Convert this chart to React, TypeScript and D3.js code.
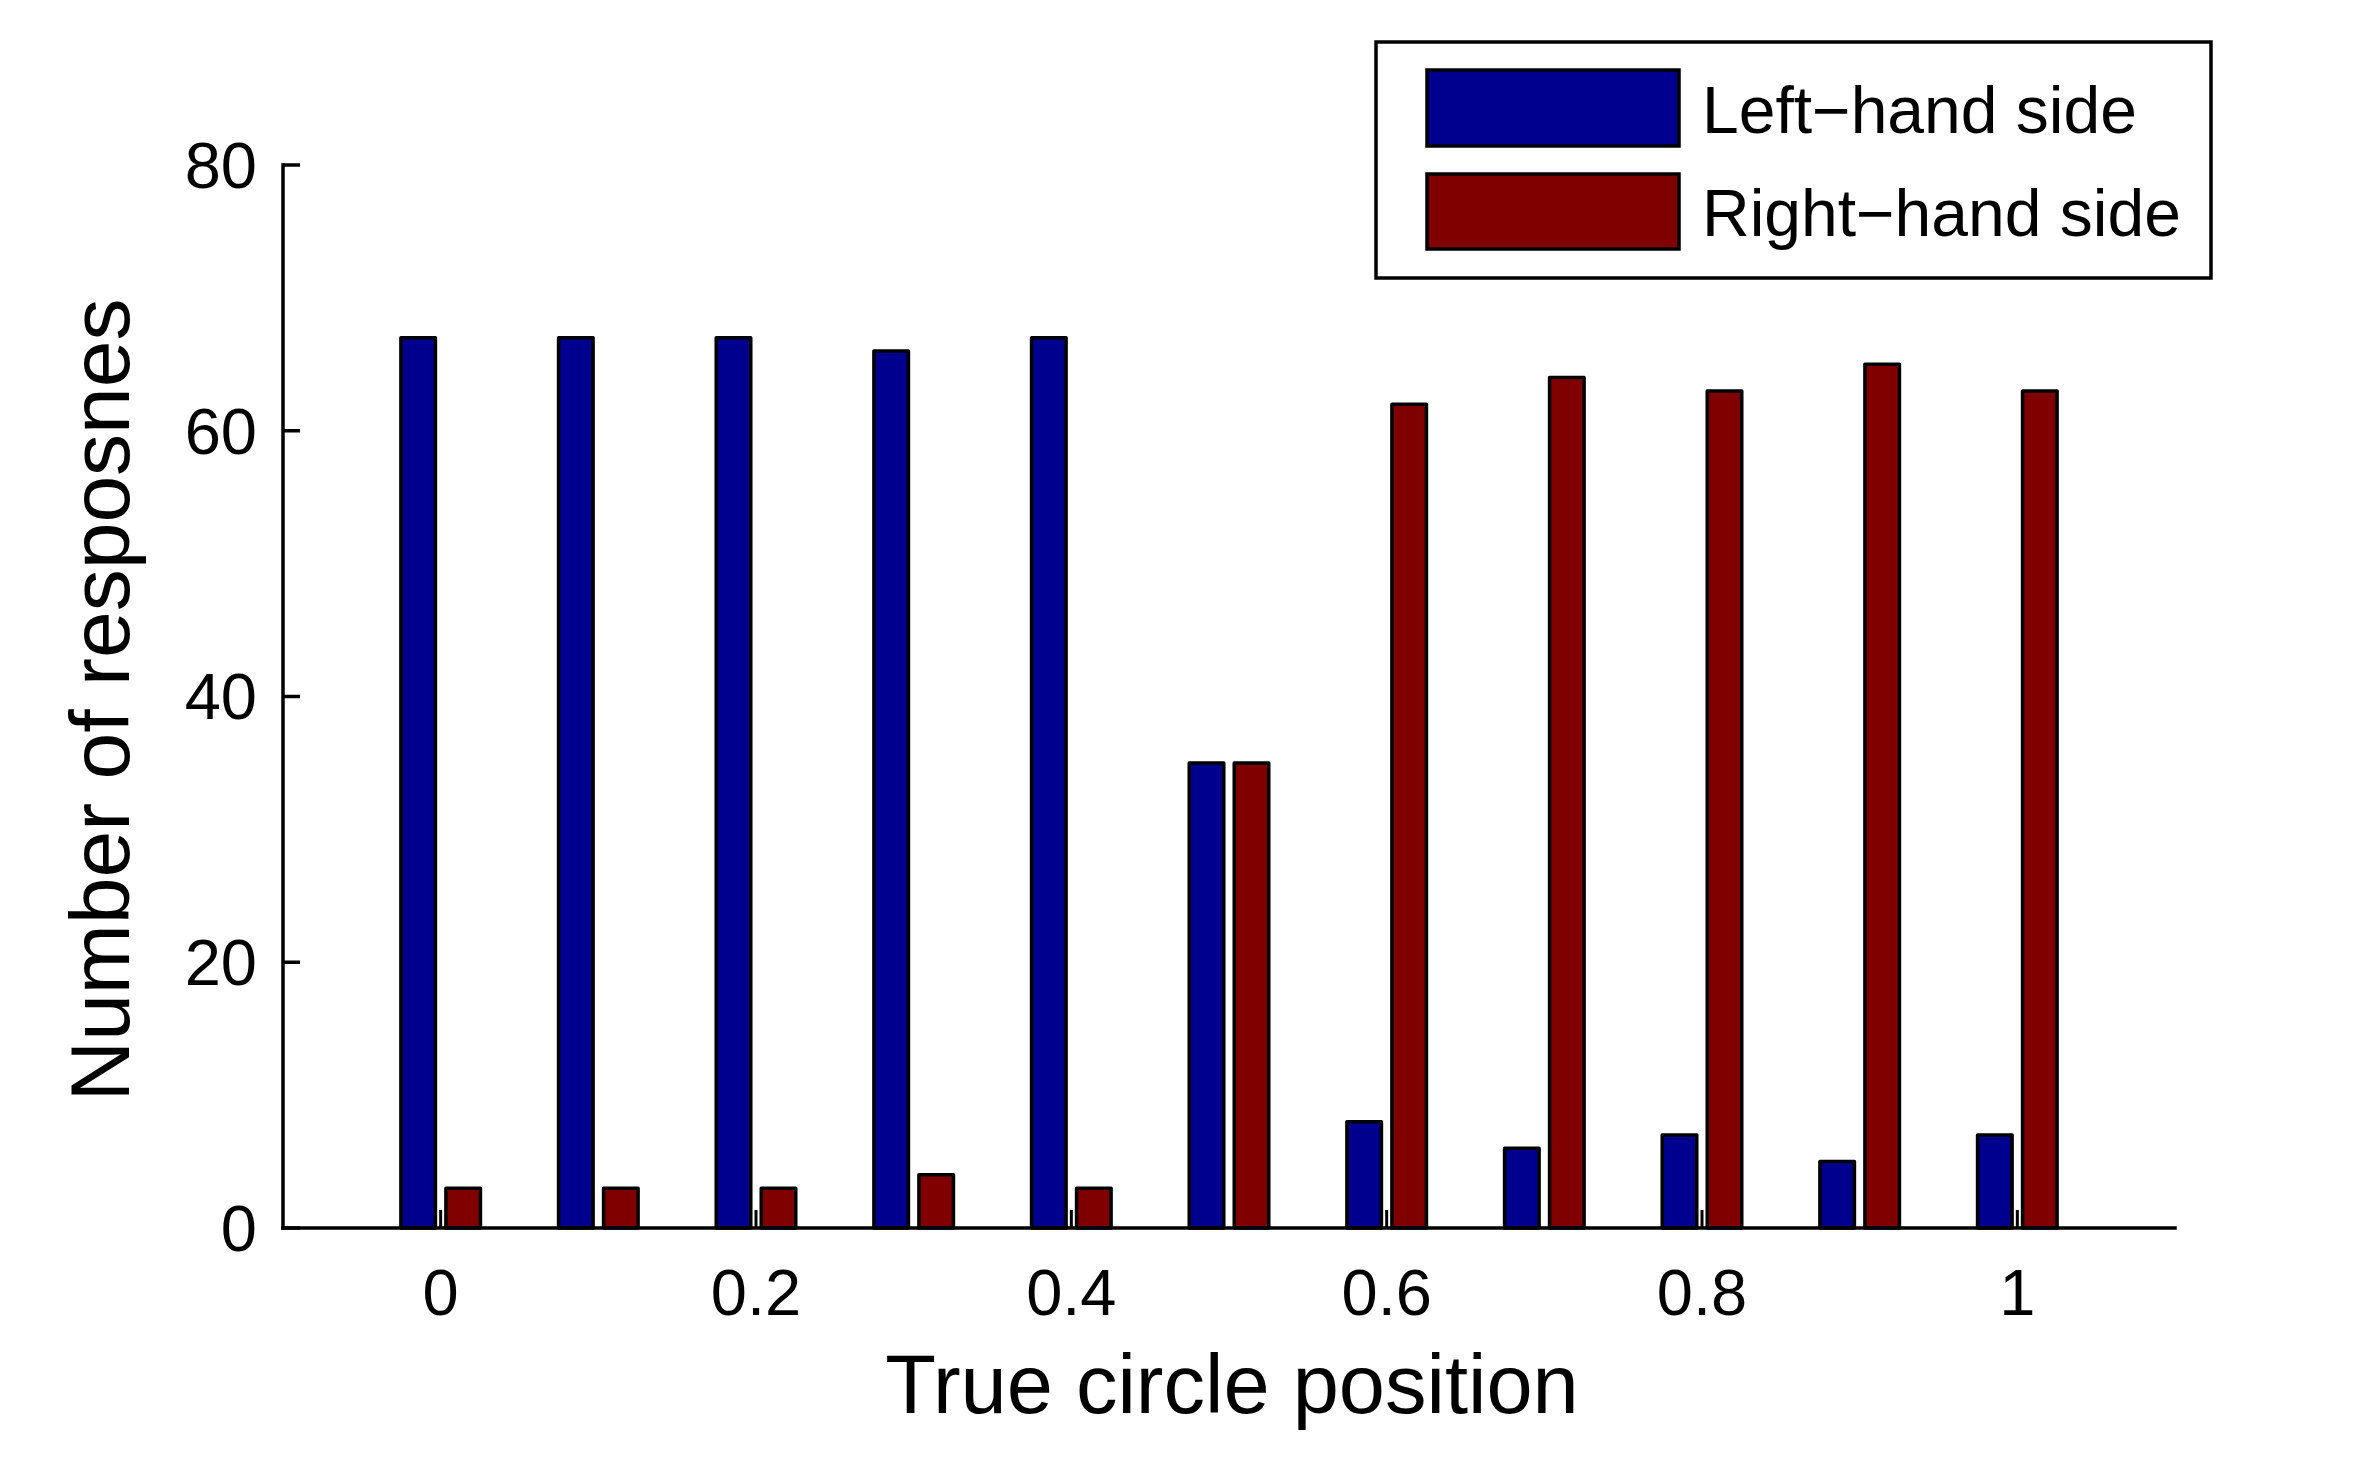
import React from "react";
import * as d3 from "d3";

const positions = [0, 0.1, 0.2, 0.3, 0.4, 0.5, 0.6, 0.7, 0.8, 0.9, 1];
const leftHand = [67, 67, 67, 66, 67, 35, 8, 6, 7, 5, 7];
const rightHand = [3, 3, 3, 4, 3, 35, 62, 64, 63, 65, 63];
const xTicks = [0, 0.2, 0.4, 0.6, 0.8, 1];
const yTicks = [0, 20, 40, 60, 80];
const seriesNames = ["Left\u2212hand side", "Right\u2212hand side"];
const seriesColors = ["#00008F", "#800000"];

const W = 2367;
const H = 1458;
const FONT = "'Liberation Sans', Arial, Helvetica, sans-serif";

export default function App() {
  const x = d3.scaleLinear().domain([-0.1, 1.1]).range([283, 2175]);
  const y = d3.scaleLinear().domain([0, 80]).range([1228, 165]);
  const offset = 0.01427;
  const barW = 0.0219;
  const series = [leftHand, rightHand];

  return (
    <svg
      width={W}
      height={H}
      style={{ position: "absolute", left: 0, top: 0, background: "#fff" }}
      fontFamily={FONT}
    >
      <rect x={0} y={0} width={W} height={H} fill="#fff" />
      {/* x-axis inner ticks (drawn first so bars overlap) */}
      {xTicks.map((t) => (
        <line key={"xt" + t} x1={x(t)} x2={x(t)} y1={y(0)} y2={y(0) - 18} stroke="#000" strokeWidth={3} />
      ))}
      {/* bars */}
      {series.map((vals, si) =>
        vals.map((v, i) => {
          const cx = positions[i] + (si === 0 ? -offset : offset);
          const x0 = x(cx - barW / 2);
          const x1 = x(cx + barW / 2);
          return (
            <rect
              key={si + "-" + i}
              x={x0}
              y={y(v)}
              width={x1 - x0}
              height={y(0) - y(v)}
              fill={seriesColors[si]}
              stroke="#000"
              strokeWidth={3.5}
              strokeLinejoin="round"
            />
          );
        })
      )}
      {/* axes */}
      <line x1={x(-0.1)} x2={x(-0.1)} y1={y(80)} y2={y(0)} stroke="#000" strokeWidth={3.5} strokeLinecap="square" />
      <line x1={x(-0.1)} x2={x(1.1)} y1={y(0)} y2={y(0)} stroke="#000" strokeWidth={3.5} strokeLinecap="square" />
      {yTicks.map((t) => (
        <g key={"yt" + t}>
          <line x1={x(-0.1)} x2={x(-0.1) + 17} y1={y(t)} y2={y(t)} stroke="#000" strokeWidth={3.5} />
          <text x={257} y={y(t)} dy="0.35em" textAnchor="end" fontSize={65} fill="#000">
            {t}
          </text>
        </g>
      ))}
      {xTicks.map((t) => (
        <text key={"xl" + t} x={x(t)} y={1315} textAnchor="middle" fontSize={65} fill="#000">
          {t}
        </text>
      ))}
      {/* axis titles */}
      <text x={1232} y={1413} textAnchor="middle" fontSize={83} fill="#000">
        True circle position
      </text>
      <text
        transform={`translate(129, ${700}) rotate(-90)`}
        textAnchor="middle"
        fontSize={84}
        fill="#000"
      >
        Number of resposnes
      </text>
      {/* legend */}
      <rect x={1376} y={42} width={835} height={236} fill="#fff" stroke="#000" strokeWidth={3.5} />
      {seriesNames.map((name, i) => (
        <g key={name}>
          <rect
            x={1427}
            y={i === 0 ? 70 : 174}
            width={252}
            height={i === 0 ? 76 : 75}
            fill={seriesColors[i]}
            stroke="#000"
            strokeWidth={3.5}
          />
          <text x={1702} y={i === 0 ? 133 : 236} fontSize={66} fill="#000">
            {name}
          </text>
        </g>
      ))}
    </svg>
  );
}
